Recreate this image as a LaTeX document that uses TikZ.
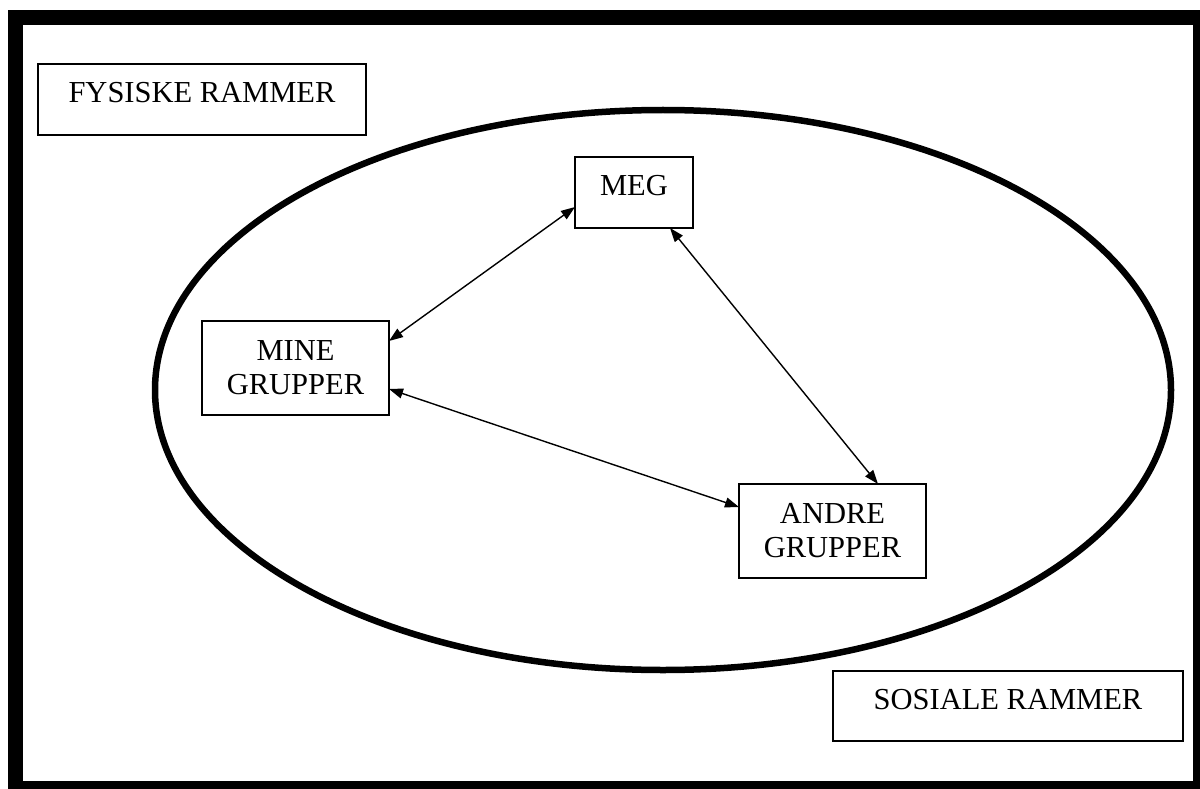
\documentclass[tikz,border=0pt]{standalone}
\usepackage{fontspec}
\setmainfont{Liberation Serif}
\usetikzlibrary{arrows.meta}
\tikzset{
  lbl/.style={draw, line width=2pt, inner sep=0pt, outer sep=0pt, align=center,
    font=\fontsize{30.5}{34}\selectfont},
  oneline/.style={lbl, text height=20pt, text depth=14pt},
  link/.style={line width=1.4pt, {Triangle[length=14pt,width=10pt]}-{Triangle[length=14pt,width=10pt]}}
}
\begin{document}
\begin{tikzpicture}[x=1pt,y=-1pt]
\useasboundingbox (0,0) rectangle (1200,789);
\begin{scope}
\clip (0,0) rectangle (1200,789);
\draw[line width=15pt] (15.5,17.5) rectangle (1200,788.5);
\end{scope}
\draw[line width=6.5pt] (663,390) ellipse [x radius=508, y radius=280];
\node[oneline, minimum width=328pt, minimum height=71pt] (fys) at (202,99.5) {FYSISKE RAMMER};
\node[oneline, minimum width=350pt, minimum height=70pt] (sos) at (1008,706) {SOSIALE RAMMER};
\node[oneline, minimum width=118pt, minimum height=71pt] (meg) at (634,192.5) {MEG};
\node[lbl, minimum width=187pt, minimum height=94pt] (mine) at (295.5,368) {MINE\\GRUPPER};
\node[lbl, minimum width=187pt, minimum height=94pt] (andre) at (832.5,531) {ANDRE\\GRUPPER};
\draw[link] ([yshift=-14.5pt]meg.west) -- ([yshift=27pt]mine.east);
\draw[link] ([xshift=36pt]meg.south) -- ([xshift=45.5pt]andre.north);
\draw[link] ([yshift=-21pt]mine.east) -- ([yshift=24pt]andre.west);
\end{tikzpicture}
\end{document}
